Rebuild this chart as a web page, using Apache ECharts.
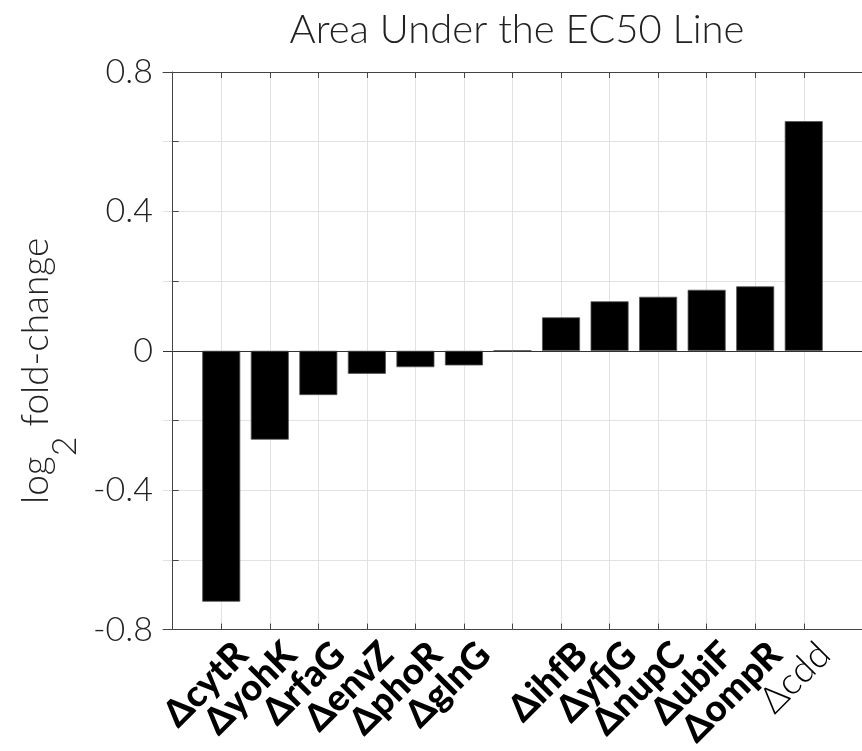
<!DOCTYPE html>
<html>
<head>
<meta charset="utf-8">
<script src="https://cdn.jsdelivr.net/npm/echarts@6/dist/echarts.min.js"></script>
<style>html,body{margin:0;padding:0;background:#fff;}#c{width:862px;height:751px;}</style>
</head>
<body>
<div id="c"></div>
<script>
const categories = ['cytR','yohK','rfaG','envZ','phoR','glnG','','ihfB','yfjG','nupC','ubiF','ompR','cdd'];
const boldFlags = [true,true,true,true,true,true,true,true,true,true,true,true,false];
const values = [-0.72, -0.255, -0.127, -0.066, -0.047, -0.042, 0.001, 0.096, 0.142, 0.155, 0.175, 0.185, 0.659];
const yTickLabels = ['-0.8','-0.4','0','0.4','0.8'];

const positions = categories.map((c, i) => i + 1);
const FONT = 'Lato, "Noto Sans", sans-serif';
const XMIN = -0.2, XMAX = 14.2, LABEL_SHIFT = 0.42;

const labelFormatter = v => {
  const i = Math.round(v) - 1;
  const n = categories[i];
  if (!n) return '';
  return boldFlags[i] ? '{b|\u0394' + n + '}' : '{n|\u0394' + n + '}';
};
const labelAxis = (vals) => ({
  type: 'value', min: XMIN - LABEL_SHIFT, max: XMAX - LABEL_SHIFT, position: 'bottom',
  axisLine: {show: false, onZero: false},
  axisTick: {show: false},
  splitLine: {show: false},
  axisLabel: {
    customValues: vals, rotate: 45, margin: 19,
    showMinLabel: true, showMaxLabel: true,
    formatter: labelFormatter,
    rich: {
      b: {fontFamily: FONT, fontSize: 37, fontWeight: 900, color: '#000'},
      n: {fontFamily: FONT, fontSize: 37, fontWeight: 300, color: '#000'}
    }
  }
});

const chart = echarts.init(document.getElementById('c'), null, {renderer: 'canvas'});
chart.setOption({
  animation: false,
  backgroundColor: '#fff',
  title: {
    text: 'Area Under the EC50 Line',
    left: 512, top: 5, textAlign: 'center',
    textStyle: {fontFamily: FONT, fontSize: 40, fontWeight: 300, color: '#222'}
  },
  grid: {left: 163, top: 72, bottom: 120, width: 710, containLabel: false},
  xAxis: [{
    type: 'value', min: XMIN, max: XMAX, position: 'bottom',
    axisLine: {show: true, onZero: false, lineStyle: {color: '#444', width: 1}},
    axisTick: {show: true, inside: true, length: 6, customValues: positions, lineStyle: {color: '#444'}},
    splitLine: {show: true, lineStyle: {color: '#e2e2e2', width: 1}},
    axisLabel: {show: false}
  }, {
    type: 'value', min: XMIN, max: XMAX, position: 'top',
    axisLine: {show: true, onZero: false, lineStyle: {color: '#444', width: 1}},
    axisTick: {show: true, inside: true, length: 6, customValues: positions, lineStyle: {color: '#444'}},
    splitLine: {show: false},
    axisLabel: {show: false}
  },
  labelAxis(positions.filter((p, i) => i % 2 === 0)),
  labelAxis(positions.filter((p, i) => i % 2 === 1))
  ],
  yAxis: {
    type: 'value', min: -0.8, max: 0.8, interval: 0.2,
    name: '{m|log}{s|2}{m| fold-change}',
    nameLocation: 'middle', nameGap: 64, nameRotate: 90,
    nameTextStyle: {
      padding: [0, 40, 0, 0],
      rich: {
        m: {fontFamily: FONT, fontSize: 37, fontWeight: 300, color: '#222', verticalAlign: 'top', lineHeight: 40},
        s: {fontFamily: FONT, fontSize: 34, fontWeight: 300, color: '#222', verticalAlign: 'top', lineHeight: 40, padding: [31, 0, 0, 0]}
      }
    },
    axisLine: {show: true, lineStyle: {color: '#444', width: 1}},
    axisTick: {show: true, inside: true, length: 6, lineStyle: {color: '#444'}},
    splitLine: {show: true, lineStyle: {color: '#e2e2e2', width: 1}},
    axisLabel: {
      margin: 10, fontFamily: FONT, fontSize: 34, fontWeight: 300, color: '#222',
      formatter: v => {
        const k = Math.round(v * 10);
        if (k % 4 !== 0) return '';
        return yTickLabels[(k + 8) / 4];
      }
    }
  },
  series: [{
    type: 'bar',
    xAxisIndex: 0,
    data: values.map((v, i) => [positions[i], v]),
    barWidth: 38,
    itemStyle: {color: '#000', borderColor: '#555', borderWidth: 0.8},
    markLine: {
      silent: true, symbol: 'none', label: {show: false},
      lineStyle: {color: '#333', type: 'solid', width: 1},
      data: [{yAxis: 0}]
    }
  }]
});
</script>
</body>
</html>
